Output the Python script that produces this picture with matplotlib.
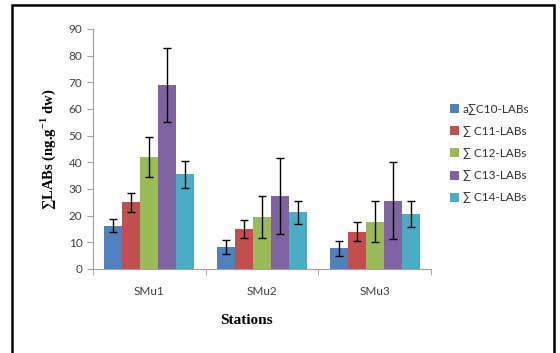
import numpy as np
import matplotlib
matplotlib.use("Agg")
import matplotlib.pyplot as plt
from matplotlib.patches import Rectangle

stations = ["SMu1", "SMu2", "SMu3"]
series = ["a∑C10-LABs", "∑ C11-LABs", "∑ C12-LABs", "∑ C13-LABs", "∑ C14-LABs"]
means = [
    [16.3, 8.3, 7.7],
    [25.0, 15.0, 14.0],
    [42.0, 19.5, 17.8],
    [69.0, 27.5, 25.6],
    [35.5, 21.3, 20.6],
]
errors = [
    [2.5, 2.7, 2.7],
    [3.5, 3.5, 3.5],
    [7.5, 7.7, 7.7],
    [14.0, 14.3, 14.5],
    [5.0, 4.3, 5.0],
]
colors = ["#4F81BD", "#C0504D", "#9BBB59", "#8064A2", "#4BACC6"]

plt.rcParams.update(
    {
        "font.family": ["Lato", "DejaVu Sans"],
        "mathtext.fontset": "custom",
        "mathtext.rm": "Liberation Serif",
        "mathtext.bf": "Liberation Serif:bold",
    }
)

fig = plt.figure(figsize=(5.6, 3.53), dpi=100)
ax = fig.add_axes([0.166, 0.238, 0.604, 0.68])

x = np.arange(len(stations))
w = 0.16
for i in range(len(series)):
    ax.bar(
        x + (i - 2) * w,
        means[i],
        w,
        color=colors[i],
        label=series[i],
        yerr=errors[i],
        error_kw=dict(ecolor="black", elinewidth=1, capsize=3, capthick=1),
    )

ax.set_xlim(-0.5, 2.5)
ax.set_ylim(0, 90)
ax.set_yticks(range(0, 91, 10))
ax.set_xticks(x)
ax.set_xticklabels(stations)
ax.set_xticks([-0.5, 0.5, 1.5, 2.5], minor=True)
ax.tick_params(axis="x", which="major", length=0, pad=12, labelsize=8.5, colors="#404040")
ax.tick_params(axis="x", which="minor", length=4, color="#a0a0a0")
ax.tick_params(axis="y", length=4, color="#a0a0a0", labelsize=8.5, labelcolor="#404040")

for s in ["top", "right"]:
    ax.spines[s].set_visible(False)
for s in ["left", "bottom"]:
    ax.spines[s].set_color("#a0a0a0")

ax.set_ylabel(
    r"∑LABs (ng.g$^{\mathbf{-1}}$ dw)",
    family=["Liberation Serif", "DejaVu Serif"],
    fontweight="bold",
    fontsize=10.5,
    labelpad=8,
)
fig.text(
    0.44,
    0.093,
    "Stations",
    family=["Liberation Serif", "DejaVu Serif"],
    fontweight="bold",
    fontsize=11,
    ha="center",
    va="center",
)

ax.legend(
    loc="upper left",
    bbox_to_anchor=(0.795, 0.72),
    bbox_transform=fig.transFigure,
    frameon=False,
    fontsize=8.5,
    handlelength=0.8,
    handleheight=0.8,
    handletextpad=0.3,
    labelspacing=0.95,
    borderaxespad=0,
    labelcolor="#303030",
)

fig.patches.append(
    Rectangle(
        (12 / 560, -0.02),
        542 / 560,
        1.02 - 5 / 353,
        transform=fig.transFigure,
        fill=False,
        edgecolor="black",
        lw=1.8,
    )
)

fig.savefig("out.png", dpi=100)
